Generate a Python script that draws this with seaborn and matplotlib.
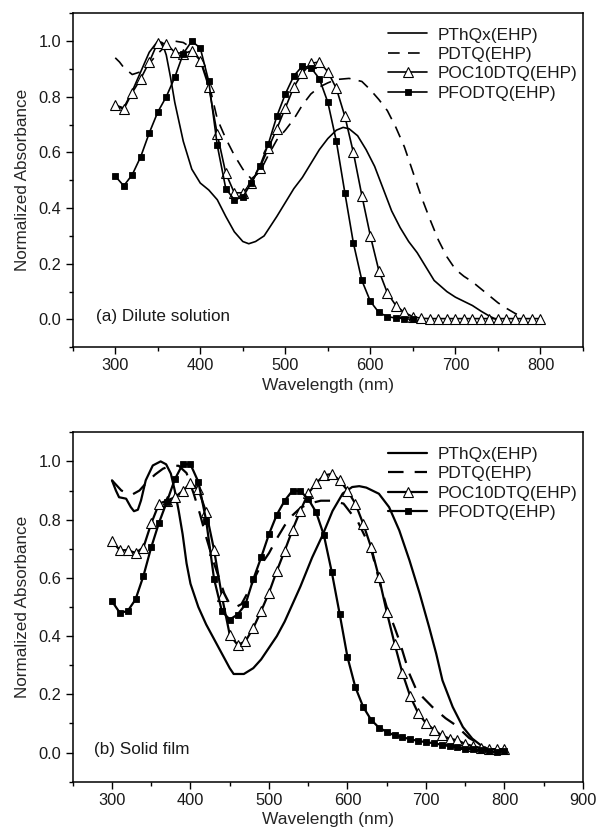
import numpy as np
import pandas as pd
import matplotlib
matplotlib.use("Agg")
import matplotlib.pyplot as plt
import seaborn as sns
from matplotlib.ticker import MultipleLocator

# ---------------- data: (a) dilute solution ----------------
a_thqx_wl = [300, 310, 320, 330, 340, 350, 355, 360, 365, 370, 380, 390, 400, 410, 420, 430, 440, 450, 457, 465,
             475, 490, 500, 510, 520, 530, 540, 550, 560, 568, 575, 585, 595, 605, 615, 625, 635, 645, 655, 665,
             675, 690, 700, 710, 720, 730, 740, 748]
a_thqx_val = [0.77, 0.76, 0.82, 0.89, 0.96, 1.0, 0.995, 0.95, 0.87, 0.78, 0.64, 0.54, 0.49, 0.465, 0.43, 0.37, 0.315, 0.28, 0.272, 0.28,
              0.30, 0.37, 0.42, 0.47, 0.51, 0.56, 0.61, 0.65, 0.68, 0.69, 0.685, 0.66, 0.61, 0.55, 0.47, 0.39, 0.33, 0.28, 0.24, 0.19,
              0.14, 0.10, 0.08, 0.065, 0.05, 0.03, 0.012, 0.0]

a_dtq_wl = [300, 305, 310, 320, 330, 340, 350, 360, 370, 380, 390, 400, 410, 420, 430, 440, 450, 460, 470, 480,
            490, 500, 510, 520, 530, 540, 550, 560, 575, 590, 600, 610, 620, 630, 640, 650, 660, 670, 680, 690,
            700, 710, 720, 730, 740, 750, 760, 770, 780]
a_dtq_val = [0.94, 0.925, 0.905, 0.88, 0.89, 0.92, 0.955, 0.985, 1.0, 0.995, 0.975, 0.93, 0.85, 0.72, 0.65, 0.59, 0.54, 0.505, 0.53, 0.59,
             0.645, 0.68, 0.72, 0.77, 0.81, 0.835, 0.85, 0.862, 0.866, 0.855, 0.825, 0.79, 0.75, 0.69, 0.62, 0.53, 0.44, 0.36, 0.285, 0.225,
             0.18, 0.155, 0.135, 0.11, 0.085, 0.06, 0.04, 0.022, 0.008]

a_poc_wl = list(range(300, 801, 10))
a_poc_val = [0.77, 0.755, 0.815, 0.865, 0.925, 0.995, 0.99, 0.96, 0.955, 0.965, 0.93, 0.835, 0.665, 0.525, 0.455, 0.455, 0.49, 0.545, 0.615, 0.685,
             0.76, 0.835, 0.885, 0.92, 0.925, 0.89, 0.83, 0.73, 0.60, 0.445, 0.30, 0.175, 0.095, 0.05, 0.025, 0.01,
             0.004, 0.003, 0.003, 0.003, 0.003, 0.003, 0.003, 0.003, 0.003, 0.003, 0.003, 0.003, 0.003, 0.003, 0.003]

a_pfo_wl = list(range(300, 651, 10))
a_pfo_val = [0.515, 0.48, 0.52, 0.585, 0.67, 0.745, 0.80, 0.87, 0.955, 1.0, 0.975, 0.855, 0.625, 0.47, 0.43, 0.44, 0.49, 0.55, 0.63, 0.73,
             0.81, 0.875, 0.91, 0.905, 0.865, 0.78, 0.64, 0.455, 0.275, 0.14, 0.065, 0.025, 0.01, 0.005, 0.003, 0.0]

# ---------------- data: (b) solid film ----------------
b_thqx_wl = [300, 305, 309, 318, 324, 328, 333, 337, 343, 352, 362, 369, 375, 380, 385, 390, 395, 400, 410, 420,
             430, 440, 450, 455, 468, 480, 490, 500, 510, 520, 530, 540, 555, 568, 581, 594, 606, 615, 624, 640,
             653, 666, 679, 692, 704, 713, 721, 734, 747, 759, 770, 780]
b_thqx_val = [0.935, 0.90, 0.877, 0.872, 0.843, 0.829, 0.834, 0.866, 0.935, 0.986, 1.0, 0.99, 0.958, 0.90, 0.83, 0.75, 0.65, 0.58, 0.50, 0.44,
              0.39, 0.34, 0.29, 0.27, 0.27, 0.29, 0.32, 0.36, 0.40, 0.45, 0.51, 0.57, 0.67, 0.745, 0.83, 0.89, 0.912, 0.915, 0.91, 0.889,
              0.843, 0.763, 0.66, 0.546, 0.431, 0.34, 0.248, 0.157, 0.088, 0.048, 0.025, 0.005]

b_dtq_wl = [300, 312, 325, 335, 345, 355, 365, 375, 385, 395, 404, 412, 420, 430, 443, 450, 458, 465, 472, 480,
            490, 500, 510, 520, 530, 540, 551, 566, 580, 595, 605, 612, 620, 630, 642, 650, 660, 666, 679, 687,
            696, 708, 725, 738, 755, 768, 780]
b_dtq_val = [0.935, 0.90, 0.885, 0.90, 0.93, 0.955, 0.975, 0.985, 0.985, 0.96, 0.89, 0.82, 0.74, 0.65, 0.547, 0.51, 0.50, 0.51, 0.545, 0.59,
             0.645, 0.685, 0.735, 0.78, 0.815, 0.84, 0.855, 0.865, 0.865, 0.855, 0.82, 0.80, 0.755, 0.70, 0.575, 0.50, 0.43, 0.385, 0.27, 0.22,
             0.19, 0.157, 0.118, 0.094, 0.05, 0.03, 0.01]

b_poc_wl = list(range(300, 801, 10))
b_poc_val = [0.727, 0.695, 0.695, 0.686, 0.704, 0.787, 0.855, 0.865, 0.877, 0.898, 0.925, 0.905, 0.825, 0.697, 0.537, 0.405, 0.37, 0.382, 0.428, 0.486,
             0.549, 0.624, 0.693, 0.765, 0.831, 0.89, 0.925, 0.952, 0.957, 0.935, 0.90, 0.855, 0.786, 0.706, 0.603, 0.483, 0.374, 0.273, 0.193, 0.136,
             0.101, 0.079, 0.059, 0.048, 0.042, 0.03, 0.022, 0.016, 0.012, 0.012, 0.012]

b_pfo_wl = list(range(300, 801, 10))
b_pfo_val = [0.52, 0.48, 0.486, 0.526, 0.606, 0.705, 0.79, 0.862, 0.938, 0.99, 0.99, 0.93, 0.797, 0.597, 0.486, 0.457, 0.474, 0.509, 0.595, 0.67,
             0.75, 0.817, 0.865, 0.90, 0.898, 0.871, 0.826, 0.746, 0.62, 0.477, 0.328, 0.225, 0.157, 0.113, 0.086, 0.071, 0.059, 0.053, 0.046, 0.04,
             0.036, 0.032, 0.027, 0.022, 0.018, 0.014, 0.012, 0.008, 0.006, 0.002, 0.005]

labels = ["PThQx(EHP)", "PDTQ(EHP)", "POC10DTQ(EHP)", "PFODTQ(EHP)"]
xticks_a = [300, 400, 500, 600, 700, 800]
xticks_b = [300, 400, 500, 600, 700, 800, 900]
yticks = [0.0, 0.2, 0.4, 0.6, 0.8, 1.0]

# ---------------- style ----------------
sns.set_theme(style="ticks")
plt.rcParams["font.family"] = ["Liberation Sans", "DejaVu Sans"]
plt.rcParams["axes.edgecolor"] = "black"
plt.rcParams["axes.linewidth"] = 1.1
plt.rcParams["text.color"] = "#1a1a1a"

fig = plt.figure(figsize=(6.02, 8.35), dpi=100)
ax_a = fig.add_axes([0.1208, 0.5841, 0.8476, 0.4000])
ax_b = fig.add_axes([0.1208, 0.0638, 0.8476, 0.4185])


def draw(ax, thqx, dtq, poc, pfo, lw, xlim, xticks, tag):
    sns.lineplot(x=thqx[0], y=thqx[1], ax=ax, color="black", lw=lw, label=labels[0], sort=False)
    sns.lineplot(x=dtq[0], y=dtq[1], ax=ax, color="black", lw=lw, label=labels[1], sort=False)
    ax.lines[-1].set_dashes((7, 5))
    sns.lineplot(x=poc[0], y=poc[1], ax=ax, color="black", lw=lw, label=labels[2], sort=False,
                 marker="^", markersize=6.5, markerfacecolor="white", markeredgecolor="black",
                 markeredgewidth=0.8)
    sns.lineplot(x=pfo[0], y=pfo[1], ax=ax, color="black", lw=lw, label=labels[3], sort=False,
                 marker="s", markersize=4.6, markerfacecolor="black", markeredgecolor="black",
                 markeredgewidth=0.6)
    ax.set_xlim(*xlim)
    ax.set_ylim(-0.1, 1.1)
    ax.set_xticks(xticks)
    ax.set_yticks(yticks)
    ax.set_yticklabels([f"{v:.1f}" for v in yticks])
    ax.xaxis.set_minor_locator(MultipleLocator(50))
    ax.yaxis.set_minor_locator(MultipleLocator(0.1))
    ax.tick_params(which="major", direction="out", length=5, width=1.0, labelsize=11.8,
                   colors="black", labelcolor="#1a1a1a", pad=3)
    ax.tick_params(which="minor", direction="out", length=3, width=1.0, colors="black")
    ax.tick_params(top=False, right=False, which="both")
    for s in ax.spines.values():
        s.set_visible(True)
        s.set_color("black")
        s.set_linewidth(1.1)
    ax.set_xlabel("Wavelength (nm)", fontsize=12.5, labelpad=3)
    ax.set_ylabel("Normalized Absorbance", fontsize=12.3, labelpad=6)
    ax.text(277, 0.012, tag, fontsize=12.3, ha="left", va="center")
    ax.legend(loc="upper right", bbox_to_anchor=(1.0, 0.973), frameon=False,
              fontsize=12.4, handlelength=2.25, handletextpad=0.63, labelspacing=0.25,
              borderaxespad=0.0, borderpad=0.3)


draw(ax_a, (a_thqx_wl, a_thqx_val), (a_dtq_wl, a_dtq_val), (a_poc_wl, a_poc_val),
     (a_pfo_wl, a_pfo_val), 1.2, (250, 850), xticks_a, "(a) Dilute solution")
draw(ax_b, (b_thqx_wl, b_thqx_val), (b_dtq_wl, b_dtq_val), (b_poc_wl, b_poc_val),
     (b_pfo_wl, b_pfo_val), 1.6, (250, 900), xticks_b, "(b) Solid film")

fig.savefig("out.png", dpi=100)
